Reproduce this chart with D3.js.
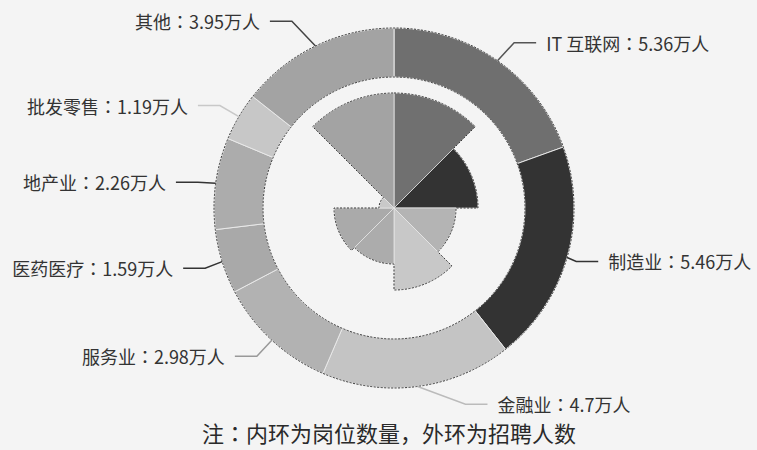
<!DOCTYPE html>
<html><head><meta charset="utf-8">
<script src="https://cdn.jsdelivr.net/npm/d3@7"></script>
<style>html,body{margin:0;padding:0;background:#f4f4f4;} svg{display:block;}</style>
</head><body><svg id="c" width="757" height="450"></svg>
<script>
// ---- data ----
const categories = ["IT 互联网","制造业","金融业","服务业","医药医疗","地产业","批发零售","其他"];
const hires = [5.36, 5.46, 4.7, 2.98, 1.59, 2.26, 1.19, 3.95];   // outer ring, 万人
const posts = [2.3, 1.68, 1.24, 1.64, 1.12, 1.2, 0.3, 2.3];      // inner rose (relative)
const unit = "万人";
const notePre = "注";
const noteBody = "内环为岗位数量，外环为招聘人数";

// ---- styles / layout ----
const outerColors = ["#6f6f6f","#333333","#c4c4c4","#b2b2b2","#a9a9a9","#acacac","#c7c7c7","#a3a3a3"];
const innerColors = ["#707070","#333333","#b4b4b4","#c8c8c8","#acacac","#aaaaaa","#c9c9c9","#a3a3a3"];
const leaderColors = ["#555","#333","#bbb","#999","#333","#333","#c8c8c8","#444"];
const W = 757, H = 450, cx = 394, cy = 208;
const R = 180, r = 131, roseMax = 115;
const nudges = {0: [4, 0], 1: [-12, -2], 2: [45, -4], 4: [4, 0], 5: [4, 2], 7: [-14, -5]};
const FONT = "'Noto Sans CJK SC','Noto Sans',sans-serif";
const FONT_TC = "'Noto Sans CJK TC','Noto Sans CJK SC',sans-serif";

const svg = d3.select("#c");
svg.append("rect").attr("width", W).attr("height", H).attr("fill", "#f4f4f4");
const g = svg.append("g").attr("transform", `translate(${cx},${cy})`);

// outer ring
const pie = d3.pie().sort(null).value(d => d);
const outerArcs = pie(hires);
const arcOuter = d3.arc().innerRadius(r).outerRadius(R);
g.selectAll("path.outer").data(outerArcs).join("path")
  .attr("class", "outer")
  .attr("d", arcOuter)
  .attr("fill", (d, i) => outerColors[i])
  .attr("stroke", "#e8e8e8").attr("stroke-width", 1);
[R, r].forEach(rad => g.append("circle").attr("r", rad)
  .attr("fill", "none").attr("stroke", "#3a3a3a").attr("stroke-width", 1)
  .attr("stroke-dasharray", "2 1.5"));

// inner rose
const rScale = d3.scaleLinear().domain([0, d3.max(posts)]).range([0, roseMax]);
const innerArcs = d3.pie().sort(null).value(() => 1)(posts);
const arcInner = d3.arc().innerRadius(0).outerRadius(d => rScale(d.data));
g.selectAll("path.inner").data(innerArcs).join("path")
  .attr("class", "inner")
  .attr("d", arcInner)
  .attr("fill", (d, i) => innerColors[i])
  .attr("stroke", "#e6e6e6").attr("stroke-width", 0.8);

// outline of rose
const pol = (rad, a) => [rad * Math.sin(a), -rad * Math.cos(a)];
const p = d3.path();
innerArcs.forEach((d, i) => {
  const rr = rScale(d.data);
  const s = pol(rr, d.startAngle);
  if (i === 0) p.moveTo(s[0], s[1]); else p.lineTo(s[0], s[1]);
  p.arc(0, 0, rr, d.startAngle - Math.PI / 2, d.endAngle - Math.PI / 2);
});
p.closePath();
g.append("path").attr("d", p.toString()).attr("fill", "none")
  .attr("stroke", "#3a3a3a").attr("stroke-width", 1).attr("stroke-dasharray", "2 1.5");

// labels
outerArcs.forEach((d, i) => {
  const mid = (d.startAngle + d.endAngle) / 2;
  const p0 = pol(R, mid);
  let p1 = pol(R + 22, mid);
  const nd = nudges[i] || [0, 0];
  p1 = [p1[0] + nd[0], p1[1] + nd[1]];
  const side = Math.sin(mid) > 0 ? 1 : -1;
  const p2 = [p1[0] + side * 22, p1[1]];
  g.append("polyline").attr("points", [p0, p1, p2].map(q => q.join(",")).join(" "))
    .attr("fill", "none").attr("stroke", leaderColors[i]).attr("stroke-width", 1.5);
  const t = g.append("text").attr("x", p2[0] + side * 10).attr("y", p2[1])
    .attr("text-anchor", side > 0 ? "start" : "end")
    .attr("dominant-baseline", "central")
    .attr("font-family", FONT)
    .attr("font-size", 18).attr("fill", "#333");
  t.append("tspan").text(categories[i]);
  t.append("tspan").attr("font-family", FONT_TC).text("：");
  t.append("tspan").text(`${hires[i]}${unit}`);
});

const foot = svg.append("text").attr("x", 389).attr("y", 442)
  .attr("text-anchor", "middle")
  .attr("font-family", FONT)
  .attr("font-size", 22).attr("fill", "#2a2a2a");
foot.append("tspan").text(notePre);
foot.append("tspan").attr("font-family", FONT_TC).text("：");
foot.append("tspan").text(noteBody);
</script></body></html>
